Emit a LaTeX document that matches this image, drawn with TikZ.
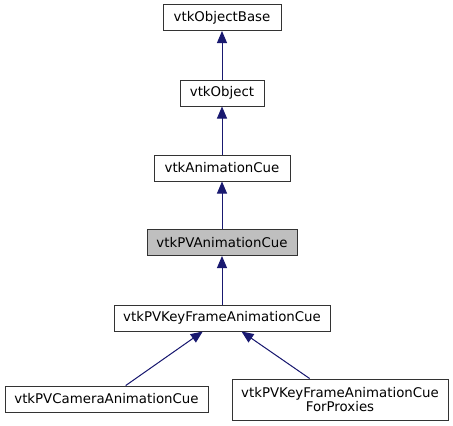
\documentclass[tikz,border=0pt]{standalone}
\usepackage{fontspec}
\setmainfont{DejaVu Sans}
\usepackage{tikz}
\usetikzlibrary{arrows.meta,positioning}
\definecolor{edgeblue}{RGB}{25,25,112}
\definecolor{curgray}{RGB}{191,191,191}
\tikzset{
  cls/.style={rectangle, draw=black!80, line width=0.75pt, align=center, minimum height=19.5pt, inner xsep=5pt, inner ysep=2pt, font=\fontsize{10pt}{11pt}\selectfont, fill=white},
  current/.style={cls, fill=curgray},
  inherit/.style={{Triangle[length=9pt,width=7.5pt]}-, line width=0.75pt, draw=edgeblue, fill=edgeblue}
}
\begin{document}
\begin{tikzpicture}[x=0.75pt, y=-0.75pt]
\useasboundingbox (0,0) rectangle (453,425);
\node[cls, minimum width=88.5pt] (base) at (222,17.5) {vtkObjectBase};
\node[cls, minimum width=63pt] (obj) at (222,93) {vtkObject};
\node[cls, minimum width=102pt] (cue) at (222,168) {vtkAnimationCue};
\node[current, minimum width=112.5pt] (pvcue) at (222,242.5) {vtkPVAnimationCue};
\node[cls, minimum width=162pt] (kf) at (222,318) {vtkPVKeyFrameAnimationCue};
\node[cls, minimum width=152.25pt] (cam) at (106.5,399) {vtkPVCameraAnimationCue};
\node[cls, minimum width=162pt, minimum height=30.75pt] (prox) at (340,399.5) {vtkPVKeyFrameAnimationCue\\ForProxies};
\draw[inherit] (base) -- (obj);
\draw[inherit] (obj) -- (cue);
\draw[inherit] (cue) -- (pvcue);
\draw[inherit] (pvcue) -- (kf);
\draw[inherit] (kf) -- (cam);
\draw[inherit] (kf) -- (prox);
\end{tikzpicture}
\end{document}
